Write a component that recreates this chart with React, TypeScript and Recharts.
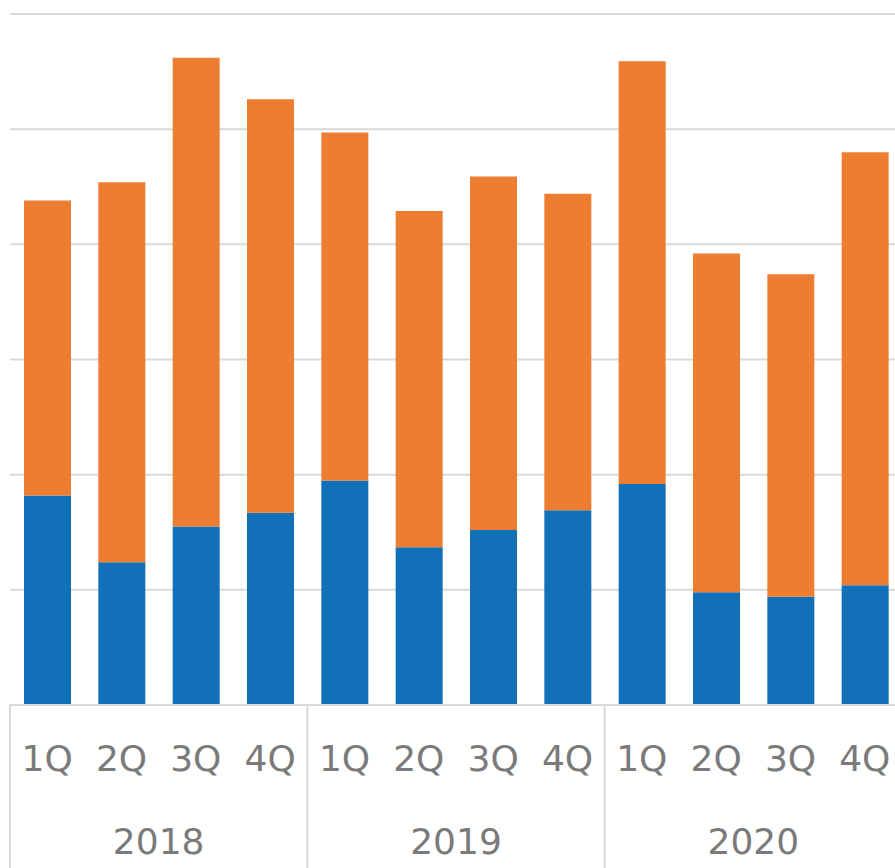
import React from "react";
import { BarChart, Bar, XAxis, YAxis, CartesianGrid } from "recharts";

const quarters = ["1Q", "2Q", "3Q", "4Q", "1Q", "2Q", "3Q", "4Q", "1Q", "2Q", "3Q", "4Q"];
const years = ["2018", "2018", "2018", "2018", "2019", "2019", "2019", "2019", "2020", "2020", "2020", "2020"];
const blueValues = [182, 124, 155, 167, 195, 137, 152, 169, 192, 98, 94, 104];
const orangeValues = [256, 330, 407, 359, 302, 292, 307, 275, 367, 294, 280, 376];
const yTicks = [0, 100, 200, 300, 400, 500, 600];

const data = quarters.map((q, i) => ({
  key: `${years[i]}-${q}`,
  q,
  year: years[i],
  blue: blueValues[i],
  orange: orangeValues[i],
}));

const FONT = "'DejaVu Sans', Verdana, sans-serif";
const TEXT_COLOR = "#7a7a7a";
const LINE_COLOR = "#d9d9d9";

const Tick = (props: any) => {
  const { x, y, payload, index } = props;
  const half = payload && payload.offset ? payload.offset : 37.16;
  const band = half * 2;
  const d = data[index];
  const items: React.ReactNode[] = [
    <text
      key="q"
      x={x}
      y={y + 66}
      textAnchor="middle"
      fontFamily={FONT}
      fontSize={36}
      fill={TEXT_COLOR}
    >
      {d ? d.q : ""}
    </text>,
  ];
  if (index % 4 === 0) {
    items.push(
      <line key="sep" x1={x - half} x2={x - half} y1={y} y2={y + 170} stroke={LINE_COLOR} strokeWidth={2} />
    );
    items.push(
      <text
        key="y"
        x={x - half + band * 2}
        y={y + 149}
        textAnchor="middle"
        fontFamily={FONT}
        fontSize={36}
        fill={TEXT_COLOR}
      >
        {d ? d.year : ""}
      </text>
    );
  }
  if (index === data.length - 1) {
    items.push(
      <line key="end" x1={x + half} x2={x + half} y1={y} y2={y + 170} stroke={LINE_COLOR} strokeWidth={2} />
    );
  }
  return <g>{items}</g>;
};

export default function App() {
  return (
    <div style={{ position: "absolute", left: 0, top: 0, width: 895, height: 868, overflow: "hidden", background: "#fff" }}>
      <BarChart
        width={903}
        height={868}
        data={data}
        margin={{ top: 14, right: 1, left: 10, bottom: 0 }}
      >
        <CartesianGrid vertical={false} stroke={LINE_COLOR} strokeWidth={2} />
        <YAxis hide domain={[0, 600]} ticks={yTicks} />
        <XAxis
          dataKey="key"
          interval={0}
          height={163}
          tickLine={false}
          tickSize={0}
          tickMargin={0}
          axisLine={{ stroke: LINE_COLOR, strokeWidth: 2 }}
          tick={<Tick />}
        />
        <Bar dataKey="blue" stackId="a" fill="#1270b8" barSize={47} isAnimationActive={false} />
        <Bar dataKey="orange" stackId="a" fill="#ed7d31" barSize={47} isAnimationActive={false} />
      </BarChart>
    </div>
  );
}
